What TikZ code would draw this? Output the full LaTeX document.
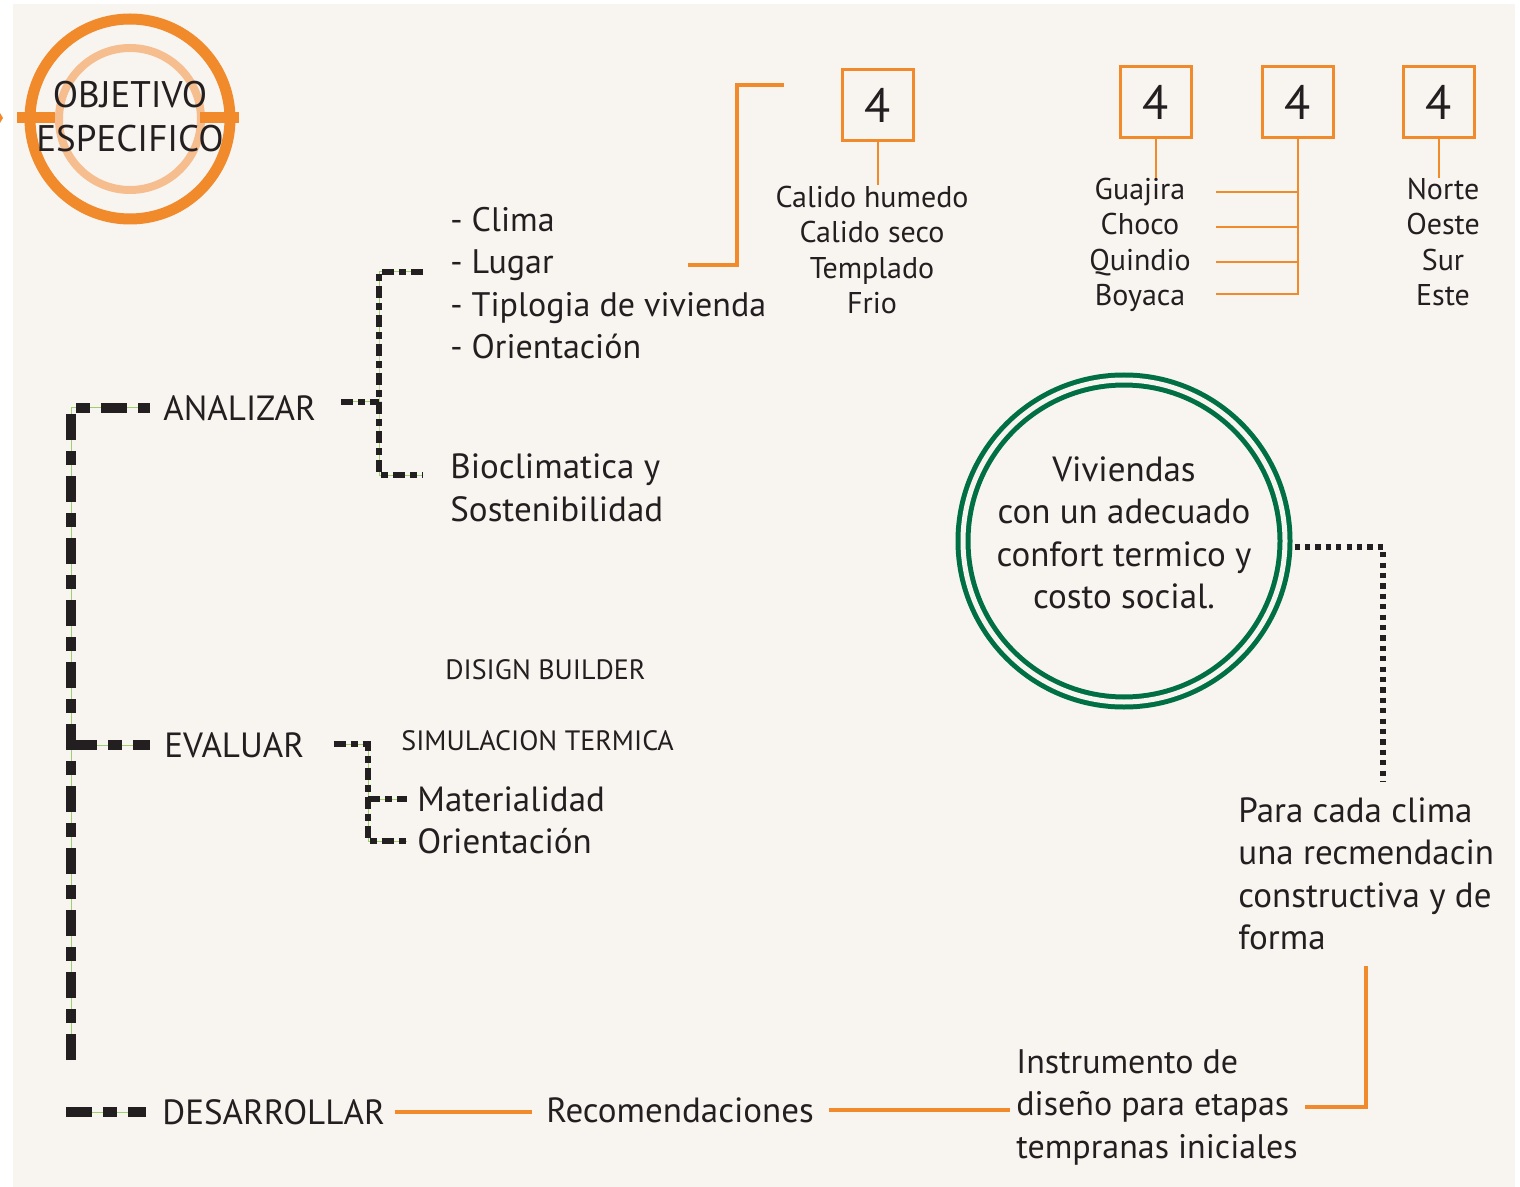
\documentclass[tikz,border=0pt]{standalone}
\usepackage{fontspec}
\setmainfont{PT Sans}
\usetikzlibrary{positioning}
\definecolor{naranja}{HTML}{F18A2B}
\definecolor{naranjaclaro}{HTML}{F6BE8E}
\definecolor{verde}{HTML}{006F44}
\definecolor{fondo}{HTML}{F8F4F0}
\definecolor{tinta}{HTML}{231F20}
\definecolor{guia}{HTML}{9CCF6E}
\begin{document}
\begin{tikzpicture}[x=0.5pt, y=-0.5pt,
  every node/.style={text=tinta, inner sep=0pt},
  big/.style={font=\fontsize{17.5}{21.25}\selectfont, align=left},
  mid/.style={font=\fontsize{15}{17.75}\selectfont, align=center},
  caps/.style={font=\fontsize{14}{16}\selectfont},
  numbox/.style={draw=naranja, line width=1.5pt, minimum size=35.5pt, font=\fontsize{24}{24}\selectfont},
  stem/.style={naranja, line width=1.3pt},
  link/.style={naranja, line width=2pt},
  guide/.style={preaction={draw=guia, line width=0.5pt, solid}},
  maindash/.style={guide, tinta, line width=5pt, dash pattern=on 13pt off 5.5pt on 7pt off 5.5pt},
  subdash/.style={guide, tinta, line width=3pt, dash pattern=on 6pt off 2.5pt on 3.5pt off 2.5pt},
  dots/.style={tinta, line width=2.6pt, dash pattern=on 2.6pt off 2.6pt}]
  \useasboundingbox (0,0) rectangle (1520,1187);
  \fill[fondo] (13,4) rectangle (1515,1187);

  % objetivo
  \coordinate (objc) at (130,119);
  \draw[naranjaclaro, line width=4pt] (objc) circle[radius=71];
  \draw[naranja, line width=5.5pt] (objc) circle[radius=100];
  \draw[naranja, line width=5.5pt] (17,118) -- (55,118) (200,118) -- (239,118);
  \fill[naranja] (0,113) -- (3,118) -- (0,123) -- cycle;
  \node (obj) at (130,117) [font=\fontsize{18.5}{22}\selectfont, align=center] {OBJETIVO\\ESPECIFICO};

  % ramas
  \node (ana) [big, anchor=west] at (163,408) {ANALIZAR};
  \node (eva) [big, anchor=west] at (164,745) {EVALUAR};
  \node (des) [big, anchor=west] at (162,1112) {DESARROLLAR};
  \node (lst) [big, font=\fontsize{17}{21.25}\selectfont, anchor=west] at (450,283) {- Clima\\- Lugar\\- Tiplogia de vivienda\\- Orientación};
  \node (bio) [big, anchor=west] at (450,488) {Bioclimatica y\\Sostenibilidad};
  \node (dis) [caps, anchor=west] at (445,670) {DISIGN BUILDER};
  \node (sim) [caps, anchor=west] at (401,741) {SIMULACION TERMICA};
  \node (mat) [big, anchor=west] at (417,799) {Materialidad};
  \node (ori) [big, below=21pt of mat.west, anchor=west] {Orientación};
  \node (rec) [big, anchor=west] at (546,1110) {Recomendaciones};
  \node (ins) [big, font=\fontsize{17}{21.25}\selectfont, anchor=west] at (1016,1107) {Instrumento de\\diseño para etapas\\tempranas iniciales};
  \node (para) [big, anchor=west] at (1238,874) {Para cada clima\\una recmendacin\\constructiva y de\\forma};

  % cajas
  \node (b1) [numbox] at (878,105) {4};
  \node (b2) [numbox] at (1156,102) {4};
  \node (b3) [numbox] at (1298,102) {4};
  \node (b4) [numbox] at (1439,102) {4};
  \node (clim) [mid] at (872,250) {Calido humedo\\Calido seco\\Templado\\Frio};
  \node (dep) [mid] at (1140,245) {Guajira\\Choco\\Quindio\\Boyaca};
  \node (pto) [mid] at (1443,242) {Norte\\Oeste\\Sur\\Este};
  \draw[stem] (b1.south) -- (b1.south |- clim.north);
  \draw[stem] (b2.south) -- (b2.south |- dep.north);
  \draw[stem] (b4.south) -- (b4.south |- pto.north);
  \draw[stem] (b3.south) -- (b3.south |- 0,294) -- (1216,294);
  \foreach \y in {192,227,262}
    \draw[stem] (1216,\y) -- (b3.south |- 0,\y);

  \coordinate (tipo) at (688,265);
  \coordinate (clima) at (784,85);
  \draw[link] (tipo) -| (737,85) -- (clima);

  % meta
  \node (viv) [circle, draw=verde, double=fondo, double distance=2.5pt, line width=2.5pt, minimum size=161pt] at (1124,541) {};
  \node (vivt) [big, align=center] at (1124,533) {Viviendas\\con un adecuado\\confort termico y\\costo social.};
  \coordinate (dk) at (1383,547);
  \coordinate (dend) at (1383,782);
  \draw[dots] ([xshift=3.5pt]viv.east |- dk) -- (dk) -- (dend);

  \coordinate (pbot) at (1366,966);
  \draw[link] ([xshift=5pt]des.east) -- ([xshift=-7pt]rec.west |- des.east);
  \draw[link] ([xshift=7.5pt]rec.east) -- ([xshift=-3pt]ins.west |- rec.east);
  \draw[link] (pbot) |- ([xshift=3.5pt]ins.east);

  % arbol
  \coordinate (raiz) at (71,1060);
  \draw[maindash] (raiz) |- ([xshift=-6.5pt]ana.west);
  \draw[maindash] (raiz |- eva.west) -- ([xshift=-7pt]eva.west);
  \draw[maindash] ([xshift=-48pt]des.west) -- ([xshift=-8pt]des.west);

  \coordinate (aj) at (379,402);
  \coordinate (la) at (423,272);
  \coordinate (lb) at (423,475);
  \draw[subdash] ([xshift=12.5pt]ana.east |- aj) -- (aj);
  \draw[subdash] (la) -| (aj) |- (lb);

  \coordinate (ej) at (368,744);
  \draw[subdash] ([xshift=14.5pt]eva.east |- ej) -- (ej) |- ([xshift=-5pt]ori.west);
  \draw[subdash] (ej |- mat.west) -- ([xshift=-5pt]mat.west);
\end{tikzpicture}
\end{document}
